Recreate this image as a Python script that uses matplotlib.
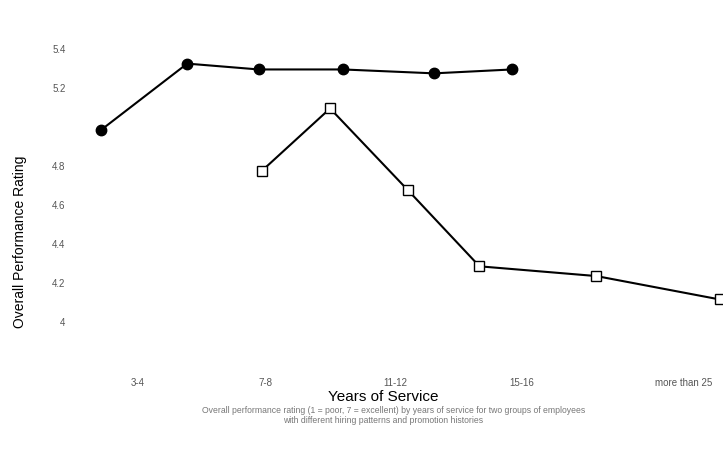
import matplotlib
matplotlib.use("Agg")
import matplotlib.pyplot as plt

plt.rcParams['font.family'] = ['Liberation Sans', 'DejaVu Sans']

# Years of service (x position on axis) and ratings
group_a_years = [2.45, 5.1, 7.3, 9.9, 12.7, 15.1]
group_a_rating = [4.98, 5.32, 5.29, 5.29, 5.27, 5.29]

group_b_years = [7.4, 9.5, 11.9, 14.1, 17.7, 21.5]
group_b_rating = [4.77, 5.09, 4.67, 4.28, 4.23, 4.11]

x_tick_pos = [3.56, 7.5, 11.5, 15.4, 20.4]
x_tick_labels = ["3-4", "7-8", "11-12", "15-16", "more than 25"]

y_tick_pos = [4.0, 4.2, 4.4, 4.6, 4.8, 5.0, 5.2, 5.4]
y_tick_labels = ["4", "4.2", "4.4", "4.6", "4.8", "", "5.2", "5.4"]

fig = plt.figure(figsize=(7.23, 4.6), dpi=100)
ax = fig.add_axes([0.104, 0.196, 0.896, 0.761])

ax.plot(group_a_years, group_a_rating, color='black', lw=1.5,
        marker='o', markersize=7.5, markerfacecolor='black', zorder=3)
ax.plot(group_b_years, group_b_rating, color='black', lw=1.5,
        marker='s', markersize=6.5, markerfacecolor='white',
        markeredgewidth=1.0, zorder=3)

ax.set_xlim(1.65, 21.6)
ax.set_ylim(3.754, 5.55)

ax.set_xticks(x_tick_pos)
ax.set_xticklabels(x_tick_labels, fontsize=7, color='#555555')
ax.set_yticks(y_tick_pos)
ax.set_yticklabels(y_tick_labels, fontsize=7, color='#555555')
ax.tick_params(axis='both', length=0)
ax.tick_params(axis='y', pad=7)
ax.tick_params(axis='x', pad=6)

for s in ax.spines.values():
    s.set_visible(False)

fig.text(0.028, 0.474, "Overall Performance Rating", rotation=90,
         ha='center', va='center', fontsize=10)
fig.text(0.53, 0.136, "Years of Service", ha='center', va='center', fontsize=11)
fig.text(0.545, 0.108,
         "Overall performance rating (1 = poor, 7 = excellent) by years of service for two groups of employees",
         ha='center', va='center', fontsize=6.2, color='#777777')
fig.text(0.53, 0.085, "with different hiring patterns and promotion histories",
         ha='center', va='center', fontsize=6.2, color='#777777')

fig.savefig("out.png", dpi=100)
